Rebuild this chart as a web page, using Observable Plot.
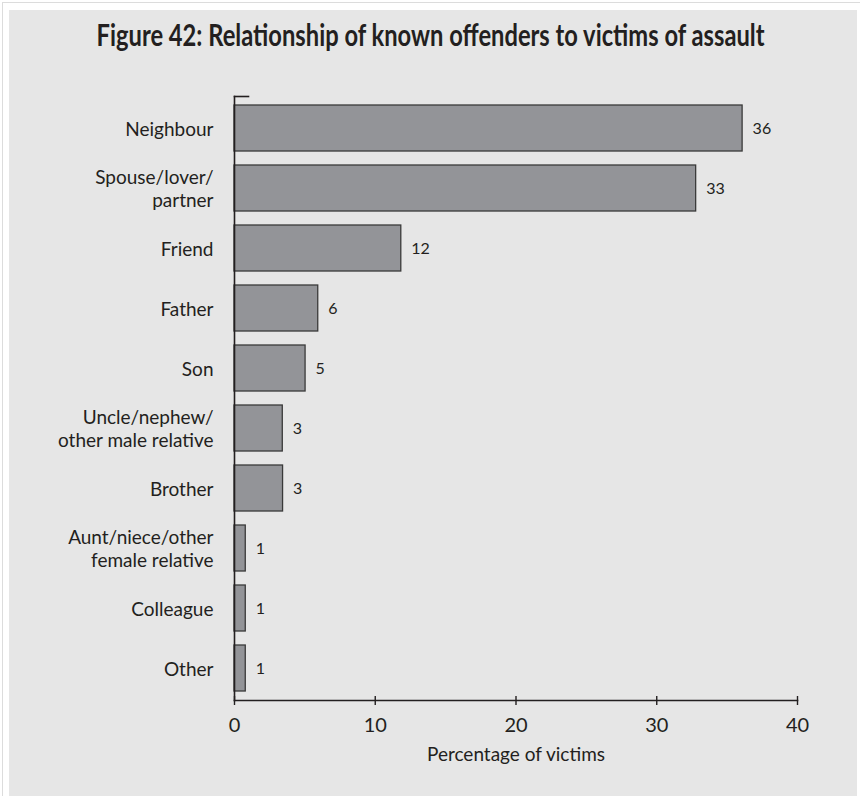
<!DOCTYPE html>
<html>
<head>
<meta charset="utf-8">
<script src="https://cdn.jsdelivr.net/npm/d3@7"></script>
<script src="https://cdn.jsdelivr.net/npm/@observablehq/plot@0.6"></script>
<style>
  html, body { margin: 0; padding: 0; background: #fff; }
  body { width: 860px; height: 796px; position: relative; overflow: hidden; font-family: Lato, "Open Sans", sans-serif; color: #231f20; }
  #border { position: absolute; left: 2px; top: 2px; width: 860px; height: 800px; border: 1px solid #dcdcdc; box-sizing: border-box; }
  #panel { position: absolute; left: 9px; top: 10px; width: 848px; height: 800px; background: #e6e6e6; }
  #titlewrap { position: absolute; left: -6px; top: 15px; width: 862px; text-align: center; }
  #title { display: inline-block; white-space: nowrap; font-family: Lato, "Open Sans", sans-serif; font-weight: bold; font-size: 31px; color: #231f20; transform-origin: center top; }
  #chart { position: absolute; left: 0; top: 60px; }
</style>
</head>
<body>
<div id="border"></div>
<div id="panel"></div>
<div id="titlewrap"><span id="title">Figure 42: Relationship of known offenders to victims of assault</span></div>
<div id="chart"></div>
<script>
const categories = [
  "Neighbour",
  "Spouse/lover/\npartner",
  "Friend",
  "Father",
  "Son",
  "Uncle/nephew/\nother male relative",
  "Brother",
  "Aunt/niece/other\nfemale relative",
  "Colleague",
  "Other"
];
const values = [36.1, 32.8, 11.85, 5.95, 5.05, 3.43, 3.45, 0.8, 0.8, 0.8];
const valueLabels = ["36", "33", "12", "6", "5", "3", "3", "1", "1", "1"];
const xTicks = [0, 10, 20, 30, 40];
const xTitle = "Percentage of victims";

// condense the title to the reference's width
const t = document.getElementById("title");
const w = t.getBoundingClientRect().width;
t.style.transform = `scaleX(${668 / w})`;

const data = categories.map((c, i) => ({cat: c, value: values[i], label: valueLabels[i]}));

const ink = "#231f20";
const chart = Plot.plot({
  width: 860,
  height: 736,
  marginLeft: 234,
  marginRight: 63,
  marginTop: 36,
  marginBottom: 96,
  style: {background: "transparent", fontFamily: "Lato, 'Open Sans', sans-serif", color: ink},
  x: {domain: [0, 40], ticks: xTicks},
  y: {domain: categories, paddingInner: 0.23, paddingOuter: 0.12},
  marks: [
    Plot.barX(data, {x: "value", y: "cat", fill: "#939498", stroke: "#3a3a3a", strokeWidth: 1.3}),
    Plot.text(data, {x: "value", y: "cat", text: "label", textAnchor: "start", dx: 10, fontSize: 16, fill: ink}),
    Plot.frame({anchor: "left", stroke: ink, strokeWidth: 1.6}),
    Plot.frame({anchor: "bottom", stroke: ink, strokeWidth: 1.6}),
    Plot.frame({anchor: "top", stroke: ink, strokeWidth: 1.6, insetRight: 549}),
    Plot.axisY({tickSize: 0, tickPadding: 21, fontSize: 19, lineHeight: 1.2, label: null, fill: ink}),
    Plot.axisX(xTicks, {tickSize: 9, dy: -4, tickFormat: () => "", label: null, stroke: ink, strokeWidth: 1.4}),
    Plot.axisX(xTicks, {tickSize: 0, tickPadding: 17, fontSize: 20, label: null, fill: ink, tickFormat: d => String(d)}),
    Plot.text([xTitle], {frameAnchor: "bottom", text: d => d, dy: 54, fontSize: 19, fill: ink, lineAnchor: "middle"})
  ]
});
document.getElementById("chart").appendChild(chart);
</script>
</body>
</html>
